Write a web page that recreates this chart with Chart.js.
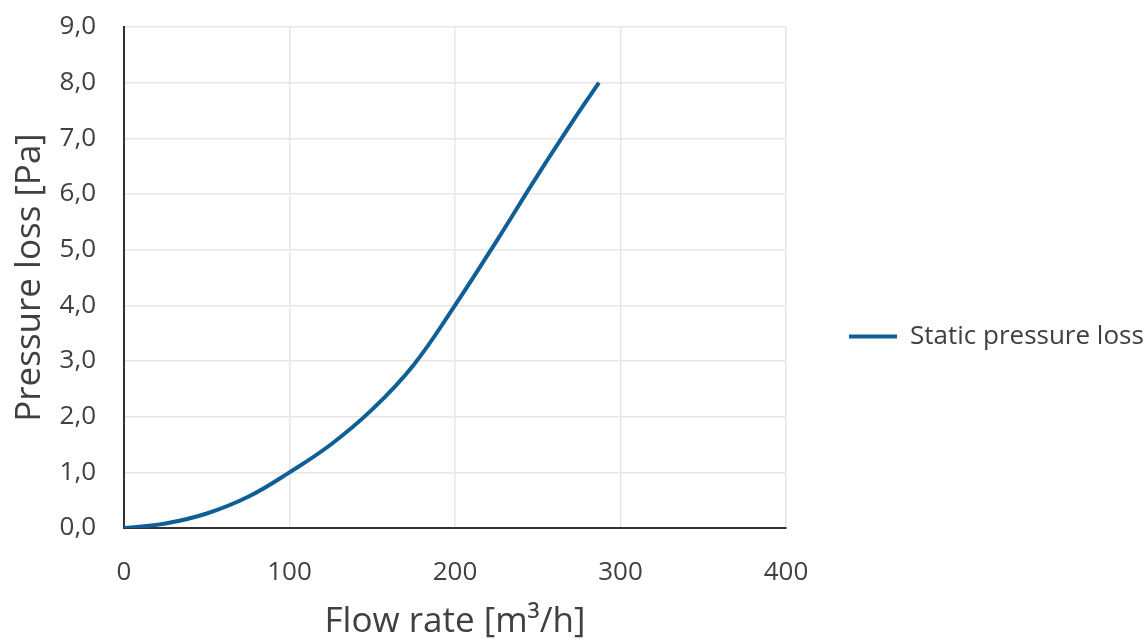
<!DOCTYPE html>
<html>
<head>
<meta charset="utf-8">
<script src="https://cdn.jsdelivr.net/npm/chart.js@4"></script>
<style>
  body { margin: 0; background: #fff; }
  #wrap { width: 1145px; height: 643px; }
</style>
</head>
<body>
<div id="wrap"><canvas id="lossChart"></canvas></div>
<script>
const flowRates = [0, 25, 50, 75, 100, 125, 150, 175, 200, 225, 250, 275, 287];
const pressureLoss = [0, 0.08, 0.26, 0.56, 1.0, 1.5, 2.13, 2.93, 4.0, 5.15, 6.34, 7.48, 8.0];
const seriesName = 'Static pressure loss';
const xTickLabels = ['0', '100', '200', '300', '400'];
const yTickLabels = ['0,0', '1,0', '2,0', '3,0', '4,0', '5,0', '6,0', '7,0', '8,0', '9,0'];

const textColor = '#404040';
const lineColor = '#0f5f96';

document.addEventListener('DOMContentLoaded', () => {
    initChart();
});

function initChart() {
    const ctx = document.getElementById('lossChart')?.getContext('2d');
    if (!ctx) return;

    Chart.defaults.font.family = '"Open Sans", sans-serif';
    Chart.defaults.color = textColor;

    new Chart(ctx, {
        type: 'line',
        data: getChartData(),
        options: getChartOptions(),
    });
}

function getChartData() {
    return {
        datasets: [{
            label: seriesName,
            data: flowRates.map((x, i) => ({ x: x, y: pressureLoss[i] })),
            borderColor: lineColor,
            backgroundColor: lineColor,
            borderWidth: 4,
            pointRadius: 0,
            tension: 0.4,
            fill: false
        }]
    };
}

function getChartOptions() {
    return {
        responsive: true,
        maintainAspectRatio: false,
        animation: false,
        layout: {
            padding: { left: 9, right: 2, top: 0, bottom: 0 }
        },
        plugins: {
            tooltip: { enabled: false },
            legend: {
                position: 'right',
                align: 'center',
                maxWidth: 357,
                title: {
                    display: true,
                    text: '',
                    font: { size: 10 },
                    padding: { top: 9, bottom: 9 }
                },
                labels: {
                    usePointStyle: true,
                    pointStyle: 'line',
                    pointStyleWidth: 48,
                    padding: 63,
                    font: { size: 26 },
                    color: textColor
                }
            }
        },
        scales: {
            x: {
                type: 'linear',
                min: 0,
                max: 400,
                ticks: {
                    stepSize: 100,
                    padding: 29,
                    font: { size: 26 },
                    callback: (v) => xTickLabels[v / 100]
                },
                grid: { color: '#e6e6e6', lineWidth: 1.5, drawTicks: false },
                border: { color: '#333333', width: 2 },
                title: {
                    display: true,
                    text: 'Flow rate [m³/h]',
                    font: { size: 35 },
                    padding: { top: 0, bottom: 0 }
                },
                afterFit: (scale) => {
                    scale.height = 115;
                    scale.paddingRight = 359;
                    scale.paddingLeft = 0;
                }
            },
            y: {
                min: 0,
                max: 9,
                ticks: {
                    stepSize: 1,
                    padding: 28,
                    font: { size: 26 },
                    callback: (v) => yTickLabels[Math.round(v)]
                },
                grid: { color: '#e6e6e6', lineWidth: 1.5, drawTicks: false },
                border: { color: '#333333', width: 2 },
                title: {
                    display: true,
                    text: 'Pressure loss [Pa]',
                    font: { size: 35 },
                    padding: { top: 0, bottom: 0 }
                },
                afterFit: (scale) => {
                    scale.width = 115;
                    scale.paddingTop = 27;
                    scale.paddingBottom = 0;
                }
            }
        }
    };
}
</script>
</body>
</html>
